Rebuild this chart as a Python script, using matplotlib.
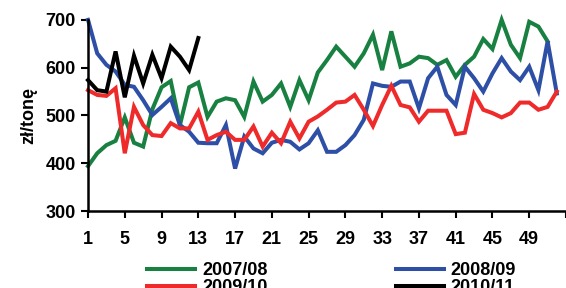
import matplotlib
matplotlib.use("Agg")
import matplotlib.pyplot as plt
import numpy as np

plt.rcParams['font.family'] = ['Liberation Sans', 'DejaVu Sans']
plt.rcParams['font.weight'] = 'bold'

s0708 = [394, 421, 438, 447, 496, 443, 435, 513, 559, 572, 480, 559, 569,
         497, 529, 536, 532, 497, 571, 529, 543, 567, 518, 574, 532, 590,
         616, 644, 623, 602, 630, 669, 595, 676, 602, 609, 623, 620, 606,
         616, 581, 606, 623, 660, 639, 700, 648, 620, 696, 686, 655]
s0809 = [700, 630, 606, 592, 564, 560, 532, 501, 518, 536, 480, 466, 443,
         442, 442, 480, 389, 456, 431, 421, 443, 449, 445, 429, 442, 469,
         424, 424, 438, 459, 491, 567, 562, 560, 571, 571, 515, 578, 602,
         543, 522, 602, 578, 550, 588, 620, 592, 574, 602, 553, 655, 546]
s0910 = [553, 543, 541, 557, 421, 518, 480, 459, 457, 484, 473, 473, 508,
         449, 459, 466, 449, 449, 477, 435, 464, 442, 487, 452, 487, 498,
         512, 527, 529, 543, 512, 478, 522, 562, 522, 517, 487, 510, 510,
         510, 461, 464, 545, 512, 505, 496, 505, 527, 527, 512, 518, 550]
s1011 = [574, 553, 550, 634, 538, 625, 567, 627, 578, 644, 623, 595, 662]

labels = ["2007/08", "2008/09", "2009/10", "2010/11"]
colors = ["#188040", "#2e4fa6", "#ee2a2a", "#000000"]
xticks = list(range(1, 54, 4))
xticklabels = [str(v) if v < 53 else "" for v in xticks]

fig = plt.figure(figsize=(5.66, 2.88), dpi=100)
ax = fig.add_axes([0.1555, 0.267, 0.8445, 0.664])

series = [s0708, s0809, s0910, s1011]
lines = []
for i, s in enumerate(series):
    wk = np.arange(1, len(s) + 1)
    ln, = ax.plot(wk, s, color=colors[i], lw=2.9, label=labels[i],
                  solid_joinstyle='miter', clip_on=False)
    lines.append(ln)

ax.set_xlim(1, 53)
ax.set_ylim(300, 700)
ax.set_yticks([300, 400, 500, 600, 700])
ax.set_xticks(xticks)
ax.set_xticklabels(xticklabels)
ax.tick_params(axis='both', labelsize=13, width=1.5, length=5, direction='out')
ax.tick_params(axis='x', pad=9)
ax.tick_params(axis='y', pad=4)
for t in ax.get_xticklabels() + ax.get_yticklabels():
    t.set_fontweight('bold')
ax.spines['top'].set_visible(False)
ax.spines['right'].set_visible(False)
ax.spines['left'].set_linewidth(1.8)
ax.spines['bottom'].set_linewidth(1.8)
ax.set_ylabel("zł/tonę", fontsize=13, fontweight='bold', labelpad=6)

order = [0, 2, 1, 3]
fig.legend([lines[i] for i in order], [labels[i] for i in order],
           loc='upper left', bbox_to_anchor=(0.244, 0.122), ncol=2,
           frameon=False, handlelength=2.65, handletextpad=0.4,
           columnspacing=7.1, labelspacing=0.0, borderpad=0,
           prop={'weight': 'bold', 'size': 13})

fig.savefig("out.png", dpi=100)
